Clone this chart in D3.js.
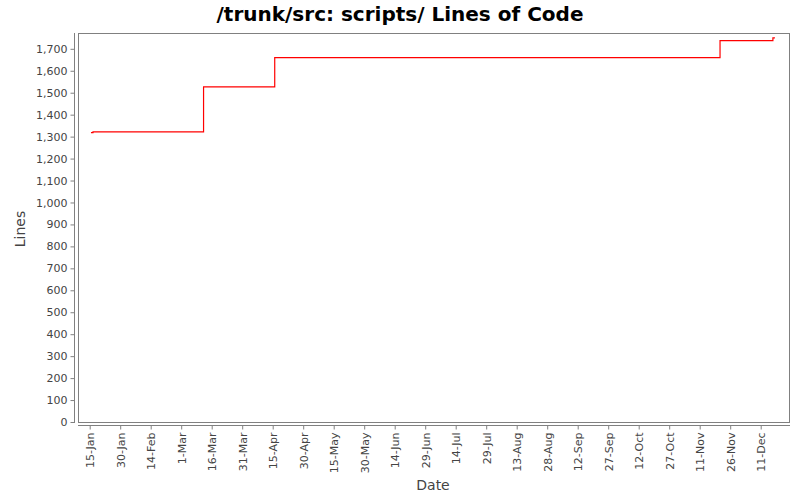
<!DOCTYPE html>
<html>
<head>
<meta charset="utf-8">
<script src="https://cdn.jsdelivr.net/npm/d3@7"></script>
<style>
  html, body { margin: 0; padding: 0; background: #fff; }
  svg { display: block; }
  text { font-family: "DejaVu Sans", sans-serif; }
</style>
</head>
<body>
<svg id="chart" width="800" height="500"></svg>
<script>
// ---- data ----
const dates = ["2009-01-15T15:00", "2009-01-16T15:00", "2009-03-12T00:00", "2009-04-16T00:00", "2009-11-21T00:00", "2009-12-17T00:00", "2009-12-18T00:00"];
const lines = [1318, 1322, 1527, 1660, 1737, 1750, 1750];
const yTicks = [0,100,200,300,400,500,600,700,800,900,1000,1100,1200,1300,1400,1500,1600,1700];
const xTickStart = "2009-01-15";
const xTickCount = 23;
const xTickStepDays = 15;
const titleText = "/trunk/src: scripts/ Lines of Code";
const xLabel = "Date";
const yLabel = "Lines";

// ---- layout ----
const svg = d3.select("#chart");
const plot = { left: 78, right: 789, top: 33, bottom: 422 };

const parse = s => new Date(s + "Z");
const data = dates.map((d, i) => ({ date: parse(d), value: lines[i] }));

const x = d3.scaleUtc()
  .domain([new Date(Date.UTC(2009, 0, 9, 6)), new Date(Date.UTC(2009, 11, 24, 22))])
  .range([plot.left, plot.right]);
const y = d3.scaleLinear().domain([0, 1772]).range([plot.bottom, plot.top]);

const t0 = parse(xTickStart + "T00:00");
const xTickVals = d3.range(xTickCount).map(i => d3.utcDay.offset(t0, i * xTickStepDays));

// plot background + border
svg.append("rect")
  .attr("x", plot.left + 0.5).attr("y", plot.top + 0.5)
  .attr("width", plot.right - plot.left).attr("height", plot.bottom - plot.top)
  .attr("fill", "#fff").attr("stroke", "#808080").attr("stroke-width", 1);

// y axis
const yAxis = d3.axisLeft(y).tickValues(yTicks).tickSize(4).tickPadding(3)
  .tickFormat(d3.format(","));
const gy = svg.append("g").attr("transform", "translate(74.5,0)").call(yAxis);
gy.select(".domain").attr("stroke", "#808080").attr("d", `M0,${plot.top}V${plot.bottom + 1}`);
gy.selectAll(".tick line").attr("stroke", "#808080");
gy.selectAll(".tick text").attr("fill", "#444").style("font-size", "11px")
  .style("font-family", "'DejaVu Sans', sans-serif");

// x axis
const xAxis = d3.axisBottom(x).tickValues(xTickVals).tickSize(4)
  .tickFormat(d3.utcFormat("%-d-%b"));
const gx = svg.append("g").attr("transform", `translate(0,${plot.bottom + 3.5})`).call(xAxis);
gx.select(".domain").attr("stroke", "#808080").attr("d", `M${plot.left},0H${plot.right + 1}`);
gx.selectAll(".tick line").attr("stroke", "#808080");
gx.selectAll(".tick text")
  .attr("fill", "#444").style("font-size", "11px")
  .style("font-family", "'DejaVu Sans', sans-serif")
  .attr("text-anchor", "end")
  .attr("transform", "rotate(-90)")
  .attr("x", -7).attr("y", 0).attr("dy", "0.35em");

// line
const line = d3.line().curve(d3.curveStepAfter)
  .x(d => x(d.date)).y(d => y(d.value));
svg.append("path").datum(data)
  .attr("fill", "none").attr("stroke", "#ff0000").attr("stroke-width", 1.2)
  .attr("d", line);

// title
svg.append("text").attr("x", 400).attr("y", 21).attr("text-anchor", "middle")
  .style("font-size", "20px").style("font-weight", "bold").attr("fill", "#000")
  .text(titleText);

// axis labels
svg.append("text").attr("x", 433).attr("y", 490).attr("text-anchor", "middle")
  .style("font-size", "14px").attr("fill", "#444").text(xLabel);
svg.append("text").attr("transform", "translate(25,229) rotate(-90)")
  .attr("text-anchor", "middle")
  .style("font-size", "14px").attr("fill", "#444").text(yLabel);
</script>
</body>
</html>
